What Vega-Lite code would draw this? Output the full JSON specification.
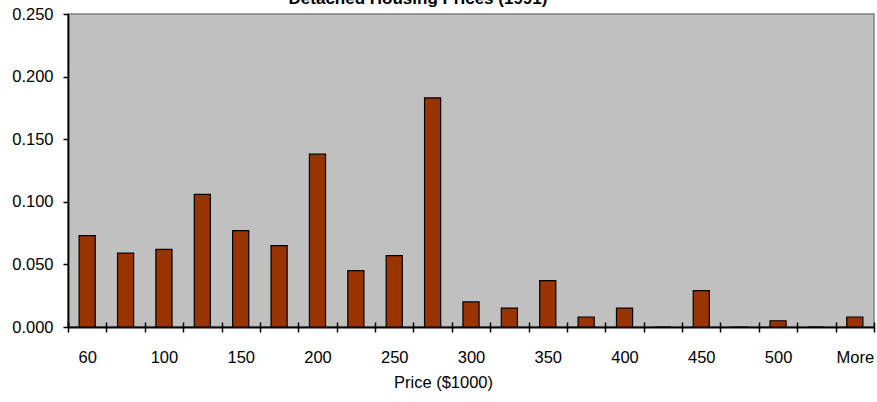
{
  "$schema": "https://vega.github.io/schema/vega-lite/v6.json",
  "width": 806,
  "height": 313,
  "autosize": {"type": "none"},
  "padding": {"left": 68, "top": 14, "right": 3, "bottom": 75},
  "background": "white",
  "config": {
    "font": "Liberation Sans, Arial",
    "view": {"fill": "#c0c0c0", "stroke": "#808080", "strokeWidth": 1.5},
    "axis": {"grid": false, "domainColor": "black", "tickColor": "black", "labelColor": "black", "titleColor": "black"}
  },
  "title": {
    "text": "Detached Housing Prices (1991)",
    "fontSize": 17,
    "fontWeight": "bold",
    "color": "black",
    "anchor": "middle",
    "frame": "group",
    "baseline": "alphabetic",
    "offset": 0,
    "dx": -53,
    "dy": 15
  },
  "data": {
    "values": [
      {"price": "60", "freq": 0.073},
      {"price": "80", "freq": 0.059},
      {"price": "100", "freq": 0.062},
      {"price": "125", "freq": 0.106},
      {"price": "150", "freq": 0.077},
      {"price": "175", "freq": 0.065},
      {"price": "200", "freq": 0.138},
      {"price": "225", "freq": 0.045},
      {"price": "250", "freq": 0.057},
      {"price": "275", "freq": 0.183},
      {"price": "300", "freq": 0.020},
      {"price": "325", "freq": 0.015},
      {"price": "350", "freq": 0.037},
      {"price": "375", "freq": 0.008},
      {"price": "400", "freq": 0.015},
      {"price": "425", "freq": 0.0},
      {"price": "450", "freq": 0.029},
      {"price": "475", "freq": 0.0},
      {"price": "500", "freq": 0.005},
      {"price": "525", "freq": 0.0},
      {"price": "More", "freq": 0.008}
    ]
  },
  "layer": [
    {
      "mark": {"type": "bar", "width": {"band": 0.42}, "fill": "#993300", "stroke": "black", "strokeWidth": 1.2},
      "encoding": {
        "x": {
          "field": "price",
          "type": "ordinal",
          "sort": null,
          "scale": {"paddingInner": 0, "paddingOuter": 0},
          "axis": {
            "orient": "bottom",
            "title": "Price ($1000)",
            "titleFontSize": 16.5,
            "titleFontWeight": "normal",
            "titleX": 375,
            "titleY": 60,
            "titleAlign": "center",
            "titleBaseline": "alphabetic",
            "labelAngle": 0,
            "labelFontSize": 16.5,
            "labelPadding": 17,
            "labelExpr": "indexof(['80','125','175','225','275','325','375','425','475','525'], datum.value) >= 0 ? '' : datum.label",
            "tickBand": "extent",
            "tickSize": 5,
            "tickWidth": 1.5,
            "domainWidth": 1.8
          }
        },
        "y": {
          "field": "freq",
          "type": "quantitative",
          "scale": {"domain": [0, 0.25], "nice": false},
          "axis": {
            "title": null,
            "values": [0, 0.05, 0.1, 0.15, 0.2, 0.25],
            "format": ".3f",
            "labelFontSize": 16.5,
            "labelPadding": 10,
            "tickSize": 5,
            "tickWidth": 1.5,
            "domainWidth": 1.8
          }
        }
      }
    },
    {
      "mark": {"type": "bar", "opacity": 0},
      "encoding": {
        "x": {
          "field": "price",
          "type": "ordinal",
          "sort": null,
          "axis": {
            "orient": "bottom",
            "title": null,
            "labels": false,
            "domain": false,
            "tickBand": "extent",
            "tickSize": -5,
            "tickWidth": 1.5
          }
        },
        "y": {"field": "freq", "type": "quantitative"}
      }
    }
  ],
  "resolve": {"axis": {"x": "independent"}}
}
